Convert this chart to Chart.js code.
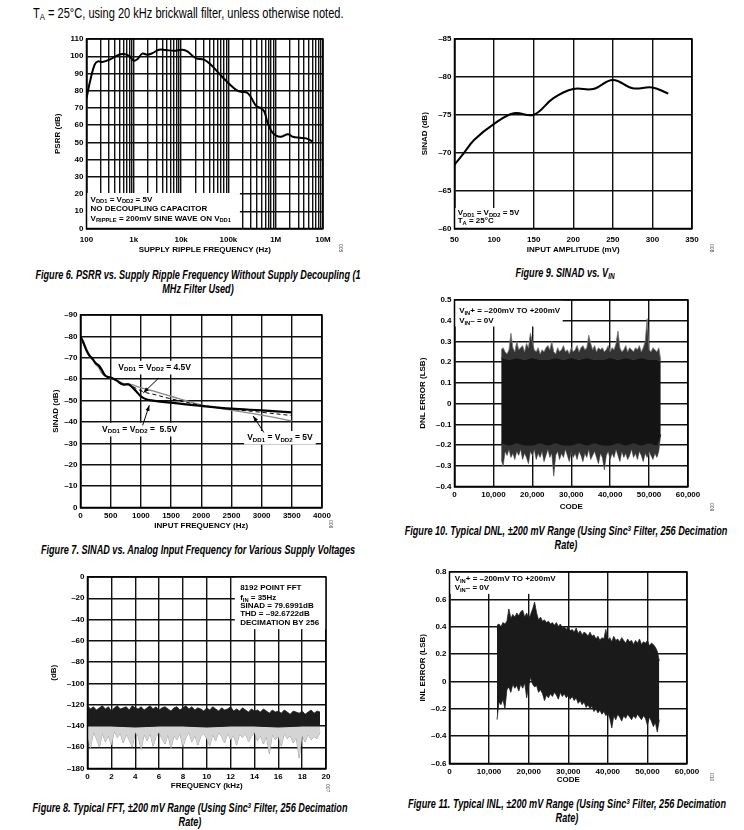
<!DOCTYPE html>
<html>
<head>
<meta charset="utf-8">
<script src="https://cdn.jsdelivr.net/npm/chart.js@4.4.1/dist/chart.umd.min.js"></script>
<style>
body { margin: 0; background: #fff; }
#page { position: relative; width: 744px; height: 830px; overflow: hidden; font-family: "Liberation Sans", Arial, sans-serif; }
canvas { position: absolute; }
.hdr { position: absolute; left: 33px; top: 5px; font-size: 14px; white-space: nowrap; transform: scaleX(0.79); transform-origin: 0 0; }
.cap { position: absolute; width: 500px; text-align: center; white-space: nowrap; font-weight: bold; font-style: italic; font-size: 12px; line-height: 14px; transform: scaleX(0.76); transform-origin: 50% 0; }
.cap sub, .hdr sub { font-size: 70%; vertical-align: -2px; line-height: 0; }
.cap sup { font-size: 65%; vertical-align: 4px; line-height: 0; }
.fid { position: absolute; font-size: 5px; transform: rotate(90deg); transform-origin: left top; color: #444; }
</style>
</head>
<body>
<div id="page">
  <div class="hdr">T<sub>A</sub> = 25°C, using 20 kHz brickwall filter, unless otherwise noted.</div>

  <canvas id="fig6"></canvas>
  <canvas id="fig9"></canvas>
  <canvas id="fig7"></canvas>
  <canvas id="fig10"></canvas>
  <canvas id="fig8"></canvas>
  <canvas id="fig11"></canvas>

  <div class="cap" style="left:-52px;top:268px">Figure 6. PSRR vs. Supply Ripple Frequency Without Supply Decoupling (1</div>
  <div class="cap" style="left:-52px;top:282px">MHz Filter Used)</div>
  <div class="cap" style="left:315px;top:266px">Figure 9. SINAD vs. V<sub>IN</sub></div>
  <div class="cap" style="left:-52px;top:543px">Figure 7. SINAD vs. Analog Input Frequency for Various Supply Voltages</div>
  <div class="cap" style="left:316px;top:524px">Figure 10. Typical DNL, ±200 mV Range (Using Sinc<sup>3</sup> Filter, 256 Decimation</div>
  <div class="cap" style="left:316px;top:538px">Rate)</div>
  <div class="cap" style="left:-60px;top:801px">Figure 8. Typical FFT, ±200 mV Range (Using Sinc<sup>3</sup> Filter, 256 Decimation</div>
  <div class="cap" style="left:-60px;top:815px">Rate)</div>
  <div class="cap" style="left:317px;top:797px">Figure 11. Typical INL, ±200 mV Range (Using Sinc<sup>3</sup> Filter, 256 Decimation</div>
  <div class="cap" style="left:317px;top:811px">Rate)</div>

  <div class="fid" style="left:344px;top:244px">005</div>
  <div class="fid" style="left:715px;top:244px">008</div>
  <div class="fid" style="left:334px;top:520px">006</div>
  <div class="fid" style="left:715px;top:503px">009</div>
  <div class="fid" style="left:331px;top:784px">007</div>
  <div class="fid" style="left:715px;top:773px">010</div>
</div>

<script>
// ---------- data ----------
// Figure 6: PSRR vs supply ripple frequency
var psrrFreq = [100, 121, 148, 174, 215, 323, 485, 620, 790, 1000,
    1190, 1510, 1930, 2480, 3420, 4700, 7120, 10700, 13600, 20400,
    30600, 42600, 64200, 96600, 145000, 185000, 247000, 300000, 385000, 490000,
    575000, 680000, 825000, 1020000, 1310000, 1820000, 2300000, 3200000, 4400000, 6100000];
var psrrDb = [75.6, 86.3, 95, 97, 96.6, 98.3, 100.9, 101.3, 100.3, 97.4,
    98.3, 101.5, 100.9, 101.8, 103.8, 103.6, 103.2, 103.8, 102.8, 98.9,
    98, 95, 89.8, 84.8, 80.5, 79.3, 78.9, 76.2, 71.2, 69.8,
    67.9, 61, 56.2, 53.9, 53.3, 54.7, 53.3, 52.7, 52.3, 50.4];
var psrrDecades = [100, 1000, 10000, 100000, 1000000, 10000000];
var psrrDecadeLabels = ['100', '1k', '10k', '100k', '1M', '10M'];

// Figure 9: SINAD vs input amplitude
var vinAmp = [50, 60, 75, 100, 125, 150, 175, 200, 225, 250, 275, 300, 320];
var sinadVin = [-68.4, -69.7, -71.7, -73.8, -75.2, -75.0, -77.2, -78.4, -78.4, -79.6, -78.5, -78.6, -77.8];

// Figure 7: SINAD vs input frequency
var inFreq = [0, 50, 100, 150, 200, 250, 300, 350, 400, 450, 500, 600, 700, 800, 900, 1000, 1100, 1200, 1500, 2000, 2500, 3000, 3500];
var sinad55 = [-80, -77, -73.5, -71, -69.5, -67.5, -66.5, -64.5, -62, -61, -60.8, -59.3, -57.5, -57.5, -55, -52, -50.5, -50, -49, -47.5, -46.2, -45.4, -44.5];
var sinad5 = [-79.5, -76.5, -73, -70.5, -69, -67, -65.5, -63, -61.5, -61, -60.5, -59.5, -58, -57.8, -57, -56, -55.3, -54.5, -52, -48, -45.5, -43.2, -40.5];
var sinad45 = [-80, -77, -73.3, -70.8, -69.2, -67.2, -66, -63.5, -62, -61.2, -60.7, -59.5, -57.8, -57.6, -56, -54.6, -53.6, -53, -50.8, -47.8, -46, -44.5, -43];

// Figure 10: DNL, outer envelope every 500 codes from 12000
var dnlUpper = [0.26, 0.27, 0.25, 0.24, 0.26, 0.34, 0.27, 0.25, 0.30, 0.26,
    0.27, 0.28, 0.25, 0.29, 0.27, 0.34, 0.30, 0.26, 0.25, 0.27,
    0.24, 0.26, 0.25, 0.27, 0.28, 0.26, 0.30, 0.25, 0.24, 0.27,
    0.25, 0.26, 0.28, 0.25, 0.26, 0.24, 0.27, 0.25, 0.26, 0.28,
    0.25, 0.27, 0.28, 0.26, 0.27, 0.33, 0.29, 0.26, 0.28, 0.25,
    0.27, 0.26, 0.27, 0.25, 0.26, 0.28, 0.25, 0.27, 0.26, 0.29,
    0.35, 0.27, 0.25, 0.26, 0.28, 0.25, 0.27, 0.26, 0.25, 0.27,
    0.26, 0.28, 0.25, 0.27, 0.30, 0.41, 0.26, 0.25, 0.27, 0.26,
    0.25, 0.27, 0.21];
var dnlLower = [-0.27, -0.30, -0.23, -0.25, -0.22, -0.26, -0.24, -0.27, -0.23, -0.25,
    -0.22, -0.27, -0.24, -0.26, -0.29, -0.23, -0.25, -0.22, -0.27, -0.24,
    -0.26, -0.23, -0.28, -0.25, -0.22, -0.26, -0.24, -0.35, -0.25, -0.23,
    -0.27, -0.24, -0.26, -0.22, -0.25, -0.28, -0.23, -0.26, -0.24, -0.27,
    -0.23, -0.25, -0.28, -0.24, -0.26, -0.22, -0.27, -0.25, -0.23, -0.26,
    -0.29, -0.24, -0.26, -0.32, -0.25, -0.23, -0.27, -0.24, -0.26, -0.22,
    -0.25, -0.28, -0.23, -0.26, -0.24, -0.27, -0.25, -0.22, -0.26, -0.24,
    -0.27, -0.23, -0.25, -0.28, -0.24, -0.26, -0.23, -0.25, -0.27, -0.24,
    -0.26, -0.23, -0.15];
var dnlCoreCode = [12000, 14000, 16000, 18000, 20000, 22000, 24000, 26000, 28000, 30000, 32000,
    34000, 36000, 38000, 40000, 42000, 44000, 46000, 48000, 50000, 52000, 53000];
var dnlCoreUpper = [0.22, 0.21, 0.22, 0.21, 0.22, 0.21, 0.21, 0.22, 0.21, 0.22, 0.21,
    0.22, 0.21, 0.21, 0.22, 0.21, 0.22, 0.21, 0.22, 0.21, 0.21, 0.2];
var dnlCoreLower = [-0.19, -0.2, -0.19, -0.2, -0.2, -0.19, -0.2, -0.19, -0.2, -0.2, -0.19,
    -0.2, -0.19, -0.2, -0.2, -0.19, -0.2, -0.19, -0.2, -0.19, -0.2, -0.15];

// Figure 8: FFT noise floor, every 0.25 kHz
var fftUpper = [-121, -124, -122, -125, -123, -121, -124, -122, -126, -123,
    -121, -124, -123, -122, -125, -121, -123, -124, -122, -125,
    -123, -121, -124, -122, -125, -123, -122, -124, -126, -123,
    -122, -125, -123, -121, -124, -122, -125, -123, -124, -126,
    -123, -125, -122, -124, -126, -123, -125, -124, -122, -126,
    -124, -126, -123, -125, -127, -124, -126, -125, -127, -124,
    -126, -128, -125, -127, -126, -128, -125, -127, -129, -126,
    -127, -128, -126, -129, -127, -125, -128, -126, -127];
var fftLower = [-150, -161, -146, -152, -160, -147, -155, -149, -158, -145,
    -151, -147, -156, -148, -153, -160, -146, -150, -162, -148,
    -154, -147, -159, -150, -146, -152, -157, -148, -161, -149,
    -153, -147, -160, -151, -146, -155, -149, -158, -150, -147,
    -152, -159, -148, -154, -146, -150, -156, -147, -153, -149,
    -158, -148, -151, -147, -155, -150, -146, -154, -149, -157,
    -150, -166, -148, -153, -150, -159, -147, -152, -149, -156,
    -151, -170, -149, -155, -148, -153, -150, -152, -146];
var fftCoreFreq = [0, 2, 4, 6, 8, 10, 12, 14, 16, 18, 19.5];
var fftCoreLower = [-140, -140, -141, -140, -140, -141, -140, -140, -141, -140, -140];

// Figure 11: INL envelope every 500 codes from 12000
var inlUpper = [0.41, 0.42, 0.40, 0.43, 0.42, 0.44, 0.53, 0.46, 0.49, 0.47,
    0.50, 0.48, 0.51, 0.52, 0.47, 0.50, 0.46, 0.49, 0.53, 0.58,
    0.50, 0.45, 0.47, 0.44, 0.45, 0.43, 0.44, 0.42, 0.43, 0.41,
    0.43, 0.40, 0.42, 0.39, 0.40, 0.38, 0.40, 0.37, 0.38, 0.36,
    0.39, 0.35, 0.37, 0.34, 0.36, 0.35, 0.33, 0.36, 0.33, 0.34,
    0.31, 0.33, 0.30, 0.32, 0.31, 0.38, 0.30, 0.32, 0.29, 0.33,
    0.30, 0.31, 0.29, 0.32, 0.30, 0.28, 0.31, 0.29, 0.30, 0.27,
    0.30, 0.28, 0.31, 0.27, 0.29, 0.28, 0.30, 0.26, 0.28, 0.27,
    0.25, 0.22, 0.15];
var inlLower = [-0.28, -0.15, -0.17, -0.13, -0.20, -0.06, -0.04, -0.08, -0.02, -0.05,
    -0.03, -0.07, -0.02, -0.05, -0.01, -0.12, -0.03, 0.03, -0.02, -0.04,
    -0.03, -0.08, -0.06, -0.09, -0.14, -0.10, -0.12, -0.09, -0.11, -0.08,
    -0.10, -0.13, -0.08, -0.11, -0.09, -0.12, -0.10, -0.13, -0.11, -0.14,
    -0.12, -0.16, -0.14, -0.17, -0.15, -0.19, -0.17, -0.20, -0.18, -0.22,
    -0.20, -0.23, -0.21, -0.24, -0.22, -0.25, -0.23, -0.27, -0.34, -0.25,
    -0.28, -0.24, -0.26, -0.29, -0.25, -0.27, -0.24, -0.26, -0.28, -0.25,
    -0.27, -0.24, -0.26, -0.28, -0.25, -0.27, -0.32, -0.26, -0.29, -0.33,
    -0.30, -0.37, -0.28];

// ---------- helpers ----------
var FONT = '"Liberation Sans", Arial, sans-serif';
var tickFont = { family: FONT, size: 8, weight: 'bold' };
Chart.defaults.font.family = FONT;
Chart.defaults.color = '#000';

function pts(xs, ys) {
    return ys.map(function (y, i) { return { x: xs[i], y: y }; });
}
function dash(v) {
    return v < 0 ? '\u2013' + Math.abs(v) : String(v);
}
function oneDec(v) {
    var r = Math.round(v * 10) / 10;
    if (r === 0) return '0';
    return (r < 0 ? '\u2013' : '') + Math.abs(r).toFixed(1);
}
function codeFmt(v) {
    return v === 0 ? '0' : v.toLocaleString('en-US');
}

// draws "V_{DD1} = ..." style text, subscripts in _{ }
function richText(ctx, str, x, y, size, align) {
    var parts = str.split(/(_\{[^}]*\})/).filter(function (p) { return p; }).map(function (p) {
        return p.indexOf('_{') === 0 ? { t: p.slice(2, -1), sub: true } : { t: p, sub: false };
    });
    var fontOf = function (sub) { return 'bold ' + (sub ? size * 0.72 : size) + 'px ' + FONT; };
    var w = 0;
    parts.forEach(function (p) { ctx.font = fontOf(p.sub); p.w = ctx.measureText(p.t).width; w += p.w; });
    var cx = align === 'center' ? x - w / 2 : x;
    ctx.textBaseline = 'middle';
    ctx.textAlign = 'left';
    parts.forEach(function (p) {
        ctx.font = fontOf(p.sub);
        ctx.fillText(p.t, cx, y + (p.sub ? size * 0.3 : 0));
        cx += p.w;
    });
    return w;
}

var notesPlugin = {
    id: 'notes',
    beforeDatasetsDraw: function (chart, args, opts) {
        var ctx = chart.ctx, xs = chart.scales.x, ys = chart.scales.y;
        (opts.boxes || []).forEach(function (b) {
            var x1 = xs.getPixelForValue(b[0]), x2 = xs.getPixelForValue(b[2]);
            var y1 = ys.getPixelForValue(b[1]), y2 = ys.getPixelForValue(b[3]);
            ctx.save();
            ctx.fillStyle = '#fff';
            ctx.fillRect(Math.min(x1, x2), Math.min(y1, y2), Math.abs(x2 - x1), Math.abs(y2 - y1));
            ctx.restore();
        });
        var size = opts.size || 8;
        (opts.labels || []).forEach(function (l) {
            if (!l.bg) return;
            var px = xs.getPixelForValue(l.x), py = ys.getPixelForValue(l.y);
            ctx.save();
            var w = richText(ctx, l.t, -1000, -1000, size, 'left');
            ctx.fillStyle = '#fff';
            var left = l.align === 'center' ? px - w / 2 : px;
            ctx.fillRect(left - 3, py - size * 0.75, w + 6, size * 1.6);
            ctx.restore();
        });
    },
    afterDraw: function (chart, args, opts) {
        var ctx = chart.ctx, xs = chart.scales.x, ys = chart.scales.y, a = chart.chartArea;
        var size = opts.size || 8;
        ctx.save();
        ctx.strokeStyle = '#000';
        ctx.lineWidth = 1.5;
        ctx.strokeRect(a.left, a.top, a.right - a.left, a.bottom - a.top);
        (opts.arrows || []).forEach(function (ar) {
            var x1 = xs.getPixelForValue(ar[0]), y1 = ys.getPixelForValue(ar[1]);
            var x2 = xs.getPixelForValue(ar[2]), y2 = ys.getPixelForValue(ar[3]);
            var ang = Math.atan2(y2 - y1, x2 - x1);
            ctx.lineWidth = 1;
            ctx.beginPath(); ctx.moveTo(x1, y1); ctx.lineTo(x2, y2); ctx.stroke();
            ctx.beginPath();
            ctx.moveTo(x2, y2);
            ctx.lineTo(x2 - 6 * Math.cos(ang - 0.35), y2 - 6 * Math.sin(ang - 0.35));
            ctx.lineTo(x2 - 6 * Math.cos(ang + 0.35), y2 - 6 * Math.sin(ang + 0.35));
            ctx.closePath();
            ctx.fillStyle = '#000';
            ctx.fill();
        });
        ctx.fillStyle = '#000';
        (opts.labels || []).forEach(function (l) {
            richText(ctx, l.t, xs.getPixelForValue(l.x), ys.getPixelForValue(l.y), size, l.align || 'left');
        });
        ctx.restore();
    }
};

function axis(title, min, max, step, fmt, more) {
    return Object.assign({
        type: 'linear', min: min, max: max,
        grid: { color: '#111', lineWidth: 1.4, drawTicks: false },
        border: { color: '#000', width: 1.5 },
        ticks: { stepSize: step, callback: fmt, font: tickFont, color: '#000', padding: 3, autoSkip: false, maxRotation: 0 },
        title: { display: true, text: title, font: tickFont, color: '#000', padding: 4 }
    }, more || {});
}

// box = plot area in page px + centre of the axis titles
function build(id, box, xAxis, yAxis, datasets, notes) {
    var c = document.getElementById(id);
    var yw = box.L - box.tcx + 8.5;
    var xh = box.tcy + 8.5 - box.B;
    c.width = Math.round(box.R - box.L + yw + 26);
    c.height = Math.round(box.B - box.T + 8 + xh);
    c.style.left = (box.L - yw) + 'px';
    c.style.top = (box.T - 8) + 'px';
    xAxis.afterFit = function (s) { s.height = xh; };
    yAxis.afterFit = function (s) { s.width = yw; };
    return new Chart(c, {
        type: 'line',
        data: { datasets: datasets },
        options: {
            responsive: false,
            animation: false,
            layout: { padding: { top: 8, right: 26, left: 0, bottom: 0 } },
            elements: { point: { radius: 0 }, line: { borderJoinStyle: 'round' } },
            plugins: { legend: { display: false }, tooltip: { enabled: false }, notes: notes },
            scales: { x: xAxis, y: yAxis }
        },
        plugins: [notesPlugin]
    });
}

// ---------- Figure 6 ----------
var psrrGrid = [];
psrrDecades.slice(0, 5).forEach(function (d) {
    for (var m = 1; m < 10; m++) psrrGrid.push(d * m);
});
psrrGrid.push(psrrDecades[5]);

var x6 = axis('SUPPLY RIPPLE FREQUENCY (Hz)', 100, 1e7, null, function (v) {
    var i = psrrDecades.indexOf(v);
    return i >= 0 ? psrrDecadeLabels[i] : '';
}, { type: 'logarithmic', afterBuildTicks: function (s) { s.ticks = psrrGrid.map(function (v) { return { value: v }; }); } });
x6.ticks.padding = 6;
build('fig6', { L: 86, T: 39, R: 322, B: 228, tcx: 57, tcy: 250 },
    x6,
    axis('PSRR (dB)', 0, 110, 10, dash),
    [{ data: pts(psrrFreq, psrrDb), borderColor: '#000', borderWidth: 2, tension: 0.4, fill: false }],
    {
        boxes: [[100, 0, 175000, 20.6]],
        labels: [
            { x: 122, y: 16.9, t: 'V_{DD1} = V_{DD2} = 5V' },
            { x: 122, y: 11.6, t: 'NO DECOUPLING CAPACITOR' },
            { x: 122, y: 5.9, t: 'V_{RIPPLE} = 200mV SINE WAVE ON V_{DD1}' }
        ]
    });

// ---------- Figure 9 ----------
var x9 = axis('INPUT AMPLITUDE (mV)', 50, 350, 50, dash);
x9.ticks.padding = 6;
build('fig9', { L: 454, T: 39, R: 691, B: 228, tcx: 424, tcy: 250 },
    x9,
    axis('SINAD (dB)', -85, -60, 5, dash, { reverse: true }),
    [{ data: pts(vinAmp, sinadVin), borderColor: '#000', borderWidth: 2, tension: 0.4, fill: false }],
    {
        boxes: [[50, -62.7, 142, -60]],
        labels: [
            { x: 54, y: -62.1, t: 'V_{DD1} = V_{DD2} = 5V' },
            { x: 54, y: -61.0, t: 'T_{A} = 25°C' }
        ]
    });

// ---------- Figure 7 ----------
build('fig7', { L: 80, T: 315, R: 321, B: 507, tcx: 55, tcy: 526 },
    axis('INPUT FREQUENCY (Hz)', 0, 4000, 500, dash),
    axis('SINAD (dB)', -90, 0, 10, dash, { reverse: true }),
    [
        { data: pts(inFreq, sinad55), borderColor: '#000', borderWidth: 2.2, tension: 0.35, fill: false },
        { data: pts(inFreq, sinad45), borderColor: '#000', borderWidth: 1, borderDash: [4, 3], tension: 0.35, fill: false },
        { data: pts(inFreq, sinad5), borderColor: '#8a8a8a', borderWidth: 1.4, tension: 0.35, fill: false }
    ],
    {
        size: 8.5,
        labels: [
            { x: 1228, y: -65.6, t: 'V_{DD1} = V_{DD2} = 4.5V', align: 'center', bg: true },
            { x: 979, y: -36.6, t: 'V_{DD1} = V_{DD2} =  5.5V', align: 'center', bg: true },
            { x: 3303, y: -32.8, t: 'V_{DD1} = V_{DD2} = 5V', align: 'center', bg: true }
        ],
        arrows: [
            [1295, -60.5, 1040, -53.6],
            [1029, -38.4, 1140, -47.8],
            [3037, -35.1, 2860, -42.8]
        ]
    });

// ---------- Figure 10 ----------
var dnlCode = dnlUpper.map(function (_, i) { return 12000 + i * 500; });
build('fig10', { L: 454, T: 300, R: 687, B: 486, tcx: 422, tcy: 507 },
    axis('CODE', 0, 60000, 10000, codeFmt),
    axis('DNL ERROR (LSB)', -0.4, 0.5, 0.1, oneDec),
    [
        { data: pts(dnlCode, dnlUpper), borderColor: '#777', backgroundColor: '#333', borderWidth: 0.8, fill: '+1' },
        { data: pts(dnlCoreCode, dnlCoreUpper), borderColor: '#141414', backgroundColor: '#141414', borderWidth: 1, fill: '+1' },
        { data: pts(dnlCoreCode, dnlCoreLower), borderColor: '#141414', backgroundColor: '#333', borderWidth: 1, fill: '+1' },
        { data: pts(dnlCode, dnlLower), borderColor: '#777', borderWidth: 0.8, fill: false }
    ],
    {
        boxes: [[0, 0.5, 27800, 0.372]],
        labels: [
            { x: 1200, y: 0.447, t: 'V_{IN}+ = \u2013200mV TO +200mV' },
            { x: 1200, y: 0.398, t: 'V_{IN}\u2013 = 0V' }
        ]
    });

// ---------- Figure 8 ----------
var fftFreq = fftUpper.map(function (_, i) { return i * 0.25; });
build('fig8', { L: 87, T: 577, R: 325, B: 768, tcx: 53, tcy: 786 },
    axis('FREQUENCY (kHz)', 0, 20, 2, dash),
    axis('(dB)', -180, 0, 20, dash),
    [
        { data: pts(fftFreq, fftUpper), borderColor: '#222', backgroundColor: '#1c1c1c', borderWidth: 0.8, fill: '+1' },
        { data: pts(fftCoreFreq, fftCoreLower), borderColor: '#1c1c1c', backgroundColor: '#d4d4d4', borderWidth: 1.2, fill: '+1' },
        { data: pts(fftFreq, fftLower), borderColor: '#8c8c8c', borderWidth: 0.8, fill: false }
    ],
    {
        boxes: [[12.35, 0, 20, -49]],
        labels: [
            { x: 12.8, y: -10.4, t: '8192 POINT FFT' },
            { x: 12.8, y: -19.8, t: 'f_{IN} = 35Hz' },
            { x: 12.8, y: -27.4, t: 'SINAD = 79.6991dB' },
            { x: 12.8, y: -35.0, t: 'THD = \u201392.6722dB' },
            { x: 12.8, y: -43.2, t: 'DECIMATION BY 256' }
        ]
    });

// ---------- Figure 11 ----------
var inlCode = inlUpper.map(function (_, i) { return 12000 + i * 500; });
build('fig11', { L: 449, T: 572, R: 686, B: 763, tcx: 422, tcy: 780 },
    axis('CODE', 0, 60000, 10000, codeFmt),
    axis('INL ERROR (LSB)', -0.6, 0.8, 0.2, oneDec),
    [
        { data: pts(inlCode, inlUpper), borderColor: '#222', backgroundColor: '#1a1a1a', borderWidth: 0.8, fill: '+1' },
        { data: pts(inlCode, inlLower), borderColor: '#222', borderWidth: 0.8, fill: false }
    ],
    {
        boxes: [[0, 0.8, 27500, 0.64]],
        labels: [
            { x: 1300, y: 0.749, t: 'V_{IN}+ = \u2013200mV TO +200mV' },
            { x: 1300, y: 0.683, t: 'V_{IN}\u2013 = 0V' }
        ]
    });
</script>
</body>
</html>
